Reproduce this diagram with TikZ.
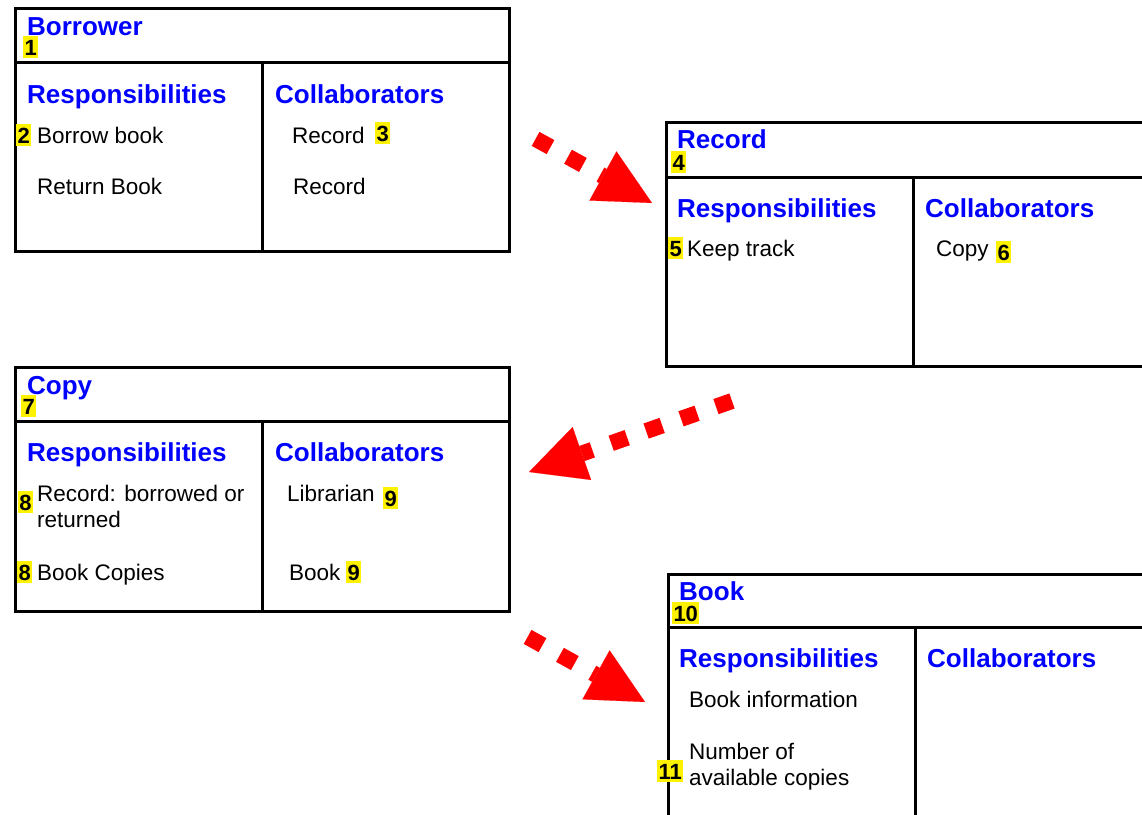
\documentclass[tikz,border=0pt]{standalone}
\usepackage{fontspec}
\setmainfont{Liberation Sans}
\usetikzlibrary{arrows.meta}
\begin{document}
\begin{tikzpicture}[x=1pt,y=-1pt,
  card/.style={draw, line width=3pt, rectangle, inner sep=0pt, anchor=north west},
  cardline/.style={line width=3pt},
  title/.style={anchor=base west, inner sep=0pt, text=blue, font=\fontsize{26}{30}\selectfont\bfseries},
  body/.style={anchor=base west, inner sep=0pt, font=\fontsize{22.5}{27}\selectfont},
  badge/.style={anchor=base west, fill=yellow, inner xsep=1.3pt, inner ysep=0pt, text height=19pt, text depth=3pt, font=\fontsize{22}{26}\selectfont\bfseries},
  redarrow/.style={draw=red, line width=16pt, dash pattern=on 17pt off 20pt,
    -{Triangle[length=56pt,width=56pt,line width=0.1pt,fill=red]}}
]
\useasboundingbox (0,0) rectangle (1142,814);

% ---------- Borrower ----------
\node[card, minimum width=494pt, minimum height=243pt] (borrower) at (14,7) {};
\draw[cardline] (14,62) -- (508,62);
\draw[cardline] (262,62) -- (262,250);
\node[badge] (b1) at (23,55) {1};
\node[title] (borrowerT) at (27,35) {Borrower};
\node[title] (borrowerR) at (27,103) {Responsibilities};
\node[title] (borrowerC) at (275,103) {Collaborators};
\node[badge] (b2) at (16,143) {2};
\node[body] (borrowerR1) at (37,143) {Borrow book};
\node[body] (borrowerR2) at (37,194) {Return Book};
\node[body] (borrowerC1) at (292,143) {Record};
\node[badge] (b3) at (375,141) {3};
\node[body] (borrowerC2) at (293,194) {Record};

% ---------- Record ----------
\node[card, minimum width=495pt, minimum height=244pt] (record) at (665,121) {};
\draw[cardline] (665,177) -- (1160,177);
\draw[cardline] (913,177) -- (913,365);
\node[badge] (b4) at (671,170) {4};
\node[title] (recordT) at (677,148) {Record};
\node[title] (recordR) at (677,217) {Responsibilities};
\node[title] (recordC) at (925,217) {Collaborators};
\node[badge] (b5) at (668,256) {5};
\node[body] (recordR1) at (687,256) {Keep track};
\node[body] (recordC1) at (936,256) {Copy};
\node[badge] (b6) at (996,260) {6};

% ---------- Copy ----------
\node[card, minimum width=494pt, minimum height=244pt] (copy) at (14,366) {};
\draw[cardline] (14,421) -- (508,421);
\draw[cardline] (262,421) -- (262,610);
\node[badge] (b7) at (21,414) {7};
\node[title] (copyT) at (27,394) {Copy};
\node[title] (copyR) at (27,461) {Responsibilities};
\node[title] (copyC) at (275,461) {Collaborators};
\node[badge] (b8a) at (18,510) {8};
\node[body] (copyR1a) at (37,501) {Record: borrowed or};
\node[body] (copyR1b) at (37,527) {returned};
\node[badge] (b8b) at (17,580) {8};
\node[body] (copyR2) at (37,580) {Book Copies};
\node[body] (copyC1) at (287,501) {Librarian};
\node[badge] (b9a) at (383,506) {9};
\node[body] (copyC2) at (289,580) {Book};
\node[badge] (b9b) at (346,580) {9};

% ---------- Book ----------
\node[card, minimum width=495pt, minimum height=250pt] (book) at (667,573) {};
\draw[cardline] (667,627) -- (1162,627);
\draw[cardline] (915,627) -- (915,823);
\node[badge] (b10) at (672,621) {10};
\node[title] (bookT) at (679,600) {Book};
\node[title] (bookR) at (679,667) {Responsibilities};
\node[title] (bookC) at (927,667) {Collaborators};
\node[body] (bookR1) at (689,707) {Book information};
\node[badge] (b11) at (657,779) {11};
\node[body] (bookR2a) at (689,759) {Number of};
\node[body] (bookR2b) at (689,785) {available copies};

% ---------- Arrows ----------
\coordinate (a1s) at (535.6,138.9);
\coordinate (a1e) at (652,203);
\coordinate (a2s) at (732,401);
\coordinate (a2e) at (529,472);
\coordinate (a3s) at (527.6,636.9);
\coordinate (a3e) at (645,702);
\draw[redarrow] (a1s) -- (a1e);
\draw[redarrow] (a2s) -- (a2e);
\draw[redarrow] (a3s) -- (a3e);
\end{tikzpicture}
\end{document}
